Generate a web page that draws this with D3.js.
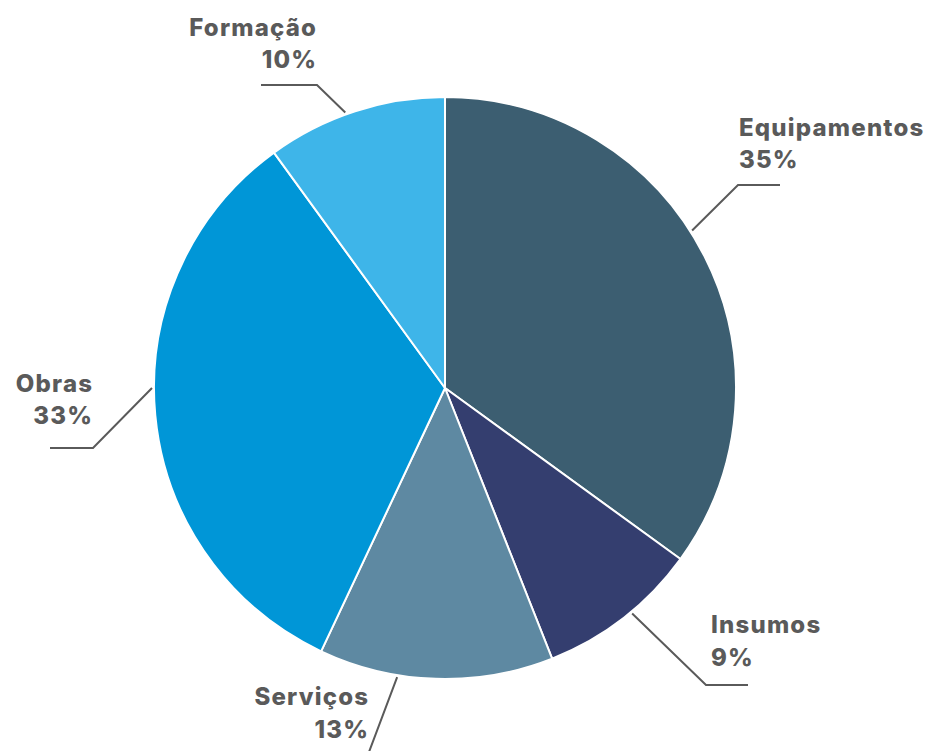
<!DOCTYPE html>
<html>
<head>
<meta charset="utf-8">
<script src="https://cdn.jsdelivr.net/npm/d3@7"></script>
<style>
  html, body { margin: 0; padding: 0; background: #ffffff; }
  svg { display: block; }
  .lbl { font-family: Inter, "Open Sans", sans-serif; font-weight: 800; font-size: 24px; fill: #5a5a5a; letter-spacing: 1.2px; }
</style>
</head>
<body>
<svg id="chart" width="933" height="751"></svg>
<script>
// Budget share by category
const categories = ["Equipamentos", "Insumos", "Serviços", "Obras", "Formação"];
const values = [35, 9, 13, 33, 10];
const colors = ["#3c5e71", "#343e6f", "#5e89a2", "#0096d7", "#3eb5e9"];

// Label placement: leader start angle (deg, clockwise from top), elbow, end, text anchor
const labelLayout = [
  { ang: 57.5,  elbow: [738, 185], end: [780, 185], tx: 739, ty: [136, 168], anchor: "start" },
  { ang: 140.3, elbow: [706, 685], end: [748, 685], tx: 711, ty: [633, 666], anchor: "start" },
  { ang: 189.4, elbow: [366, 760], end: [330, 760], tx: 368, ty: [705, 738], anchor: "end" },
  { ang: 270,   elbow: [93, 448],  end: [50, 448],  tx: 92,  ty: [392, 424], anchor: "end" },
  { ang: 340.1, elbow: [317, 85],  end: [261, 85],  tx: 316, ty: [36, 68],   anchor: "end" }
];

const cx = 445, cy = 388, radius = 291;
const svg = d3.select("#chart");
const g = svg.append("g").attr("transform", `translate(${cx},${cy})`);

const pie = d3.pie().sort(null).value(d => d.value);
const arc = d3.arc().innerRadius(0).outerRadius(radius);
const data = categories.map((c, i) => ({ name: c, value: values[i], color: colors[i] }));

g.selectAll("path.slice")
  .data(pie(data))
  .join("path")
  .attr("class", "slice")
  .attr("d", arc)
  .attr("fill", d => d.data.color)
  .attr("stroke", "#ffffff")
  .attr("stroke-width", 2)
  .attr("stroke-linejoin", "round");

// Leader lines and labels
const lab = svg.append("g");
data.forEach((d, i) => {
  const L = labelLayout[i];
  const a = L.ang * Math.PI / 180;
  const r0 = radius + 2;
  const sx = cx + r0 * Math.sin(a), sy = cy - r0 * Math.cos(a);
  lab.append("polyline")
    .attr("points", [[sx, sy], L.elbow, L.end].map(p => p.join(",")).join(" "))
    .attr("fill", "none")
    .attr("stroke", "#5a5a5a")
    .attr("stroke-width", 2);
  // trailing letter-spacing is trimmed for end-anchored text via dx
  const dx = L.anchor === "end" ? 1.2 : 0;
  lab.append("text").attr("class", "lbl").attr("x", L.tx).attr("y", L.ty[0]).attr("dx", dx)
    .attr("text-anchor", L.anchor).text(d.name);
  lab.append("text").attr("class", "lbl").attr("x", L.tx).attr("y", L.ty[1]).attr("dx", dx)
    .attr("text-anchor", L.anchor).text(d.value + "%");
});
</script>
</body>
</html>
